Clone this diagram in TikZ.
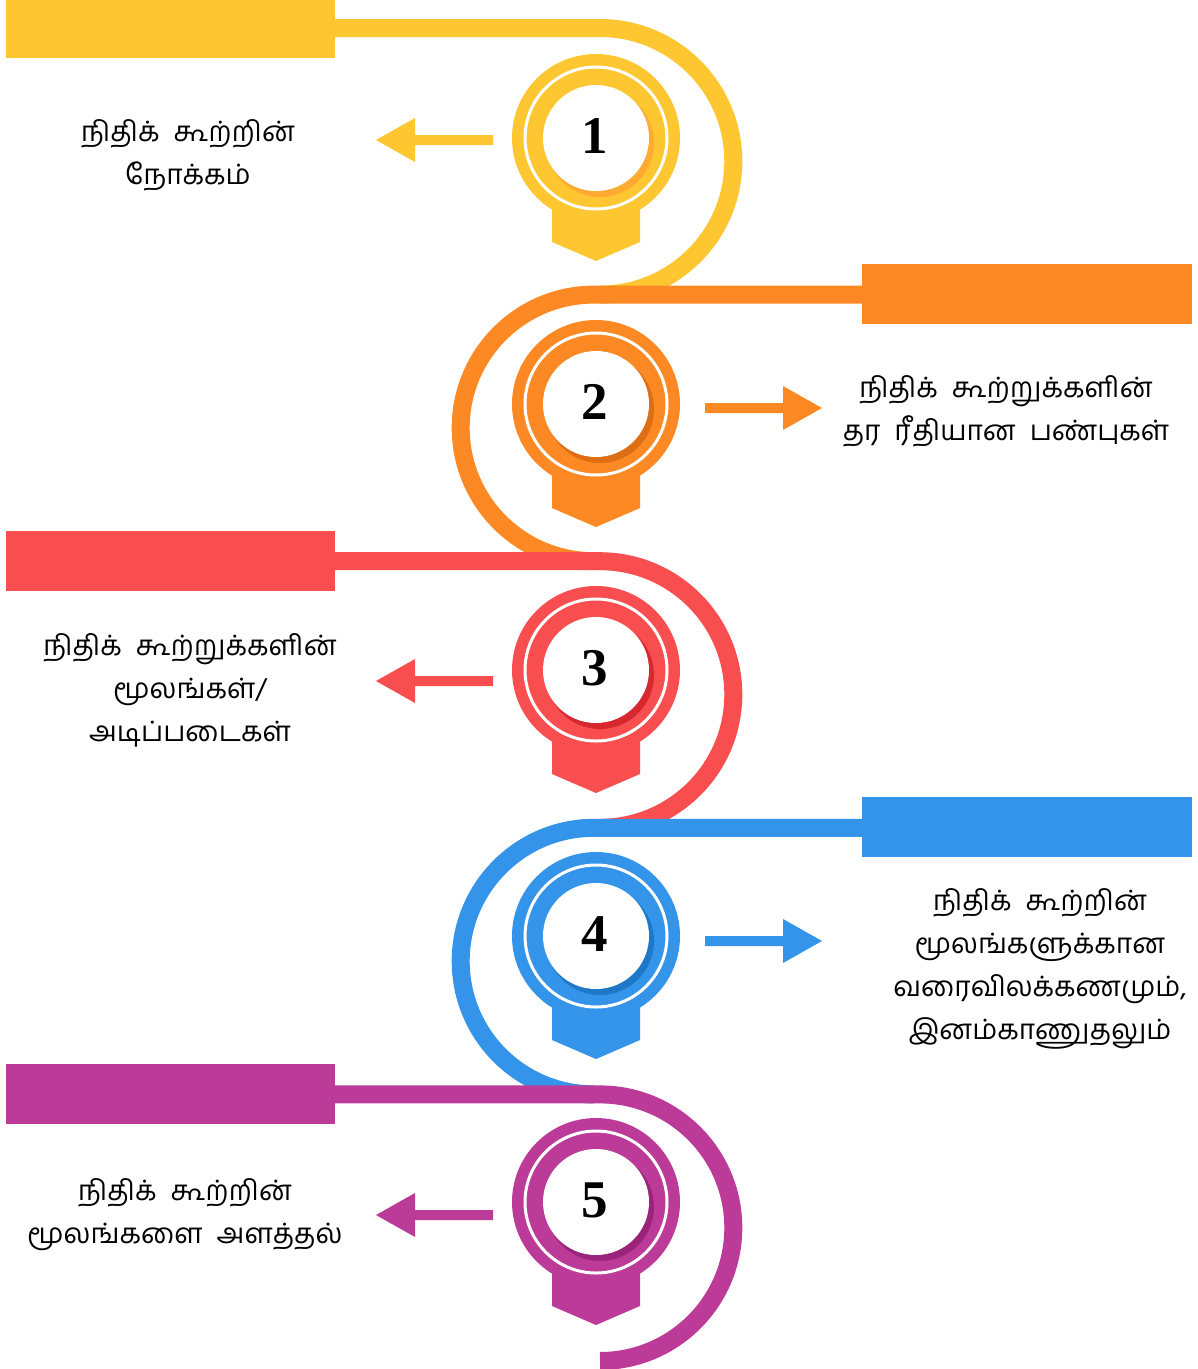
\documentclass[tikz,border=0pt]{standalone}
\usepackage{fontspec}
\setmainfont{Liberation Serif}
\newfontfamily\tamil[Script=Tamil]{Hind Madurai}
\newcommand\gap{\hspace{14pt}}
\definecolor{cY}{RGB}{254,198,48}
\definecolor{cYs}{RGB}{255,170,50}
\definecolor{cO}{RGB}{253,137,37}
\definecolor{cOs}{RGB}{222,110,20}
\definecolor{cR}{RGB}{249,78,80}
\definecolor{cRs}{RGB}{214,40,46}
\definecolor{cB}{RGB}{51,148,234}
\definecolor{cBs}{RGB}{30,120,200}
\definecolor{cP}{RGB}{188,58,152}
\definecolor{cPs}{RGB}{154,36,121}
\newcommand\medal[4]{%
  \fill[#2] (552,#1+60) -- (640,#1+60) -- (640,#1+104) -- (596,#1+123) -- (552,#1+104) -- cycle;
  \fill[#2] (596,#1) circle[radius=84pt];
  \draw[white, line width=3pt] (596,#1) circle[radius=71pt];
  \fill[#3] (600,#1+5) circle[radius=54pt];
  \fill[white] (596,#1) circle[radius=53pt];
  \node[num] (n#4) at (595,#1-2) {#4};
}
\newcommand\larrow[2]{%
  \fill[#1] (493,#2-5) -- (415,#2-5) -- (415,#2-22) -- (376,#2) -- (415,#2+22) -- (415,#2+5) -- (493,#2+5) -- cycle;
}
\newcommand\rarrow[2]{%
  \fill[#1] (705,#2-5) -- (783,#2-5) -- (783,#2-22) -- (822,#2) -- (783,#2+22) -- (783,#2+5) -- (705,#2+5) -- cycle;
}
\begin{document}
\begin{tikzpicture}[x=1pt,y=-1pt,
  track/.style={line width=18pt},
  num/.style={font=\bfseries\fontsize{53}{53}\selectfont, inner sep=0pt},
  lbl/.style={align=center, font=\tamil\fontsize{28}{43}\selectfont, inner sep=0pt}]
\useasboundingbox[fill=white] (0,0) rectangle (1198,1369);
% yellow
\fill[cY] (6,-2) rectangle (335,58);
\draw[cY, track] (330,28) -- (600,28) arc[start angle=90, end angle=-90, radius=133.3pt];
\medal{138}{cY}{cYs}{1}
\larrow{cY}{140}
\node[lbl] (t1) at (188,155) {நிதிக்\gap கூற்றின்\\நோக்கம்};
% orange
\fill[cO] (862,264) rectangle (1192,324);
\draw[cO, track] (867,294.6) -- (594,294.6) arc[start angle=90, end angle=270, radius=133.3pt];
\medal{404}{cO}{cOs}{2}
\rarrow{cO}{408}
\node[lbl] (t2) at (1006,411) {நிதிக்\gap கூற்றுக்களின்\\தர\gap ரீதியான\gap பண்புகள்};
% red
\fill[cR] (6,531) rectangle (335,591);
\draw[cR, track] (330,561.2) -- (600,561.2) arc[start angle=90, end angle=-90, radius=133.3pt];
\medal{670}{cR}{cRs}{3}
\larrow{cR}{681}
\node[lbl] (t3) at (190,690) {நிதிக்\gap கூற்றுக்களின்\\மூலங்கள்/\\அடிப்படைகள்};
% blue
\fill[cB] (862,797) rectangle (1192,857);
\draw[cB, track] (867,827.8) -- (594,827.8) arc[start angle=90, end angle=270, radius=133.3pt];
\medal{936}{cB}{cBs}{4}
\rarrow{cB}{941}
\node[lbl] (t4) at (1040,969) {நிதிக்\gap கூற்றின்\\மூலங்களுக்கான\\வரைவிலக்கணமும்,\\இனம்காணுதலும்};
% purple
\fill[cP] (6,1064) rectangle (335,1124);
\draw[cP, track] (330,1094.4) -- (600,1094.4) arc[start angle=90, end angle=-90, radius=133.3pt];
\medal{1202}{cP}{cPs}{5}
\larrow{cP}{1215}
\node[lbl] (t5) at (185,1215) {நிதிக்\gap கூற்றின்\\மூலங்களை\gap அளத்தல்};
\end{tikzpicture}
\end{document}
